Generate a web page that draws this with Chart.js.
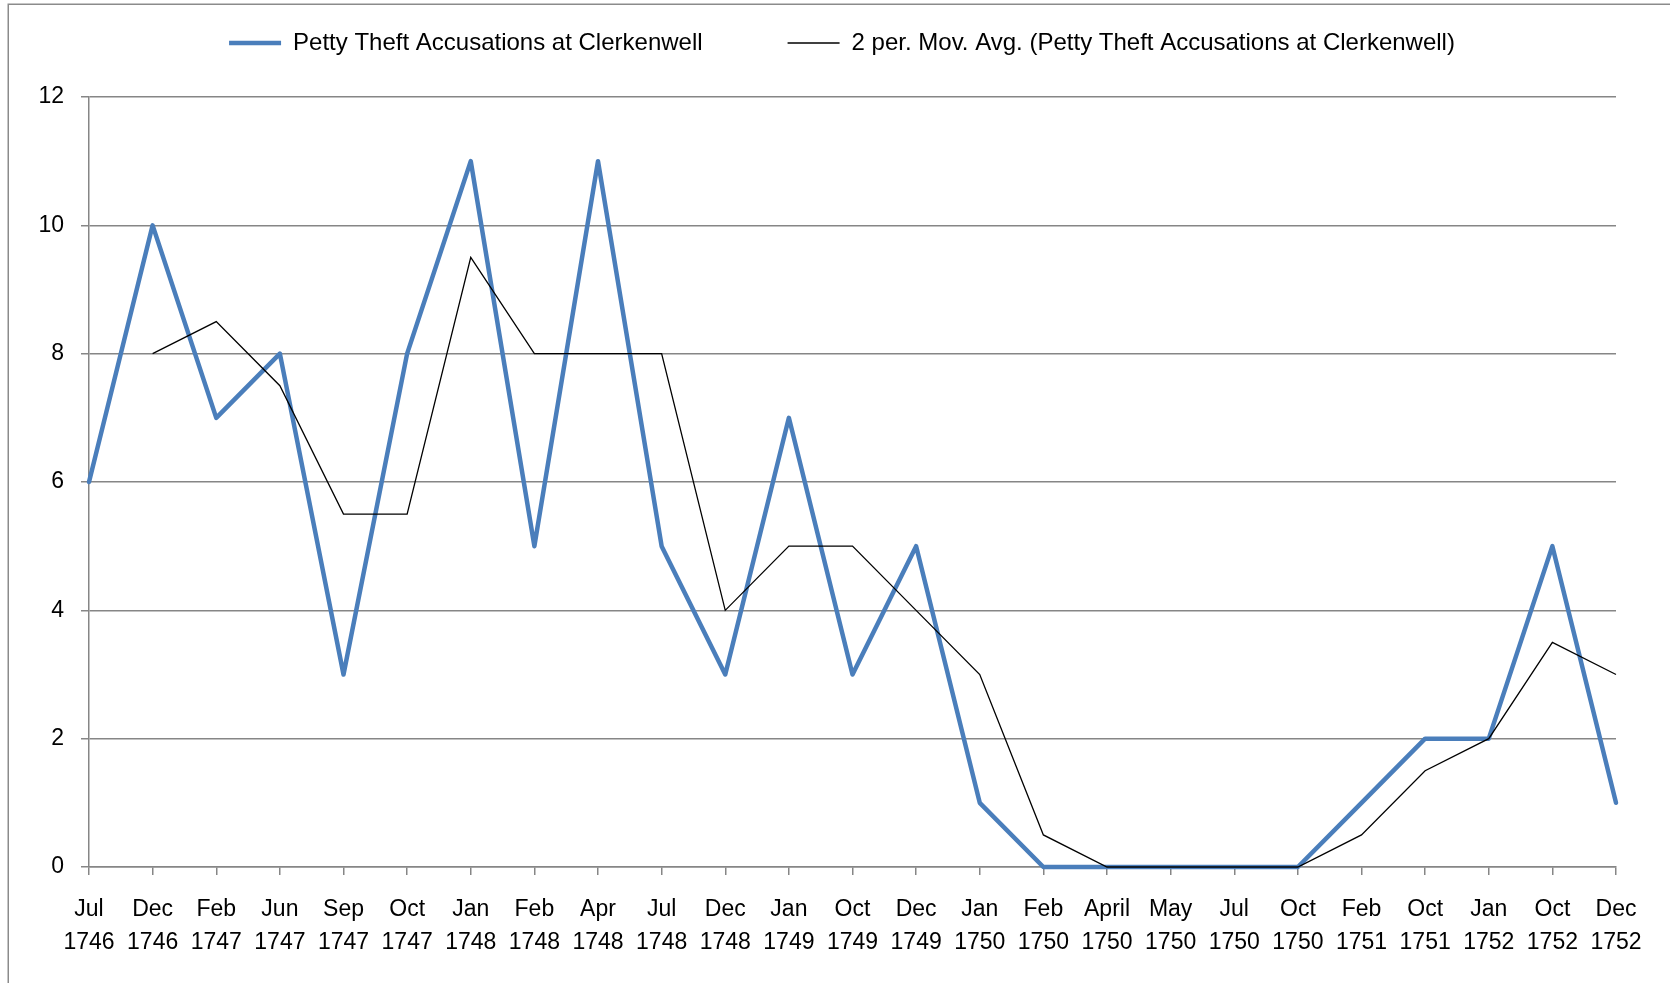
<!DOCTYPE html>
<html>
<head>
<meta charset="utf-8">
<title>Petty Theft Accusations at Clerkenwell</title>
<script src="https://cdn.jsdelivr.net/npm/chart.js@4.4.1/dist/chart.umd.min.js"></script>
<style>
  html, body { margin: 0; padding: 0; background: #ffffff; }
  canvas { display: block; }
</style>
</head>
<body>
<canvas id="chart" width="1670" height="983"></canvas>
<script>
// Sessions (month + year) on the category axis
const months = ['Jul', 'Dec', 'Feb', 'Jun', 'Sep', 'Oct', 'Jan', 'Feb', 'Apr', 'Jul', 'Dec', 'Jan', 'Oct',
                'Dec', 'Jan', 'Feb', 'April', 'May', 'Jul', 'Oct', 'Feb', 'Oct', 'Jan', 'Oct', 'Dec'];
const years = ['1746', '1746', '1747', '1747', '1747', '1747', '1748', '1748', '1748', '1748', '1748', '1749', '1749',
               '1749', '1750', '1750', '1750', '1750', '1750', '1750', '1751', '1751', '1752', '1752', '1752'];

// Accusations per session
const accusations = [6, 10, 7, 8, 3, 8, 11, 5, 11, 5, 3, 7, 3, 5, 1, 0, 0, 0, 0, 0, 1, 2, 2, 5, 1];

// Two-period moving average (no value for the first session)
const movingAvg = [null, 8, 8.5, 7.5, 5.5, 5.5, 9.5, 8, 8, 8, 4, 5, 5, 4, 3, 0.5, 0, 0, 0, 0, 0.5, 1.5, 2, 3.5, 3];

// Value axis tick labels
const yTickValues = [0, 2, 4, 6, 8, 10, 12];

const seriesNames = [
  'Petty Theft Accusations at Clerkenwell',
  '2 per. Mov. Avg. (Petty Theft Accusations at Clerkenwell)'
];

const labels = months.map((m, i) => [m, years[i]]);

const GRID = '#868686';
const FONT = '"Liberation Sans", Arial, sans-serif';

Chart.defaults.color = '#000000';
Chart.defaults.font.family = FONT;

// Frame around the whole chart area and legend placement
const framePlugin = {
  id: 'frame',
  beforeLayout(chart) {
    const lg = chart.legend;
    if (lg && !lg._fixedFit) {
      const fit = lg.fit;
      lg.fit = function () {
        fit.call(this);
        this.height = 97;
      };
      lg._fixedFit = true;
    }
  },
  afterLayout(chart) {
    const lg = chart.legend;
    if (lg) {
      lg.top = -54;
      lg.left = 14;
      lg.right = 1670;
    }
  },
  beforeDraw(chart) {
    const ctx = chart.ctx;
    ctx.save();
    ctx.fillStyle = '#ffffff';
    ctx.fillRect(0, 0, chart.width, chart.height);
    ctx.strokeStyle = '#8b8b8b';
    ctx.lineWidth = 1.5;
    ctx.strokeRect(8.25, 4.25, 1700, 1100);
    ctx.restore();
  }
};

new Chart(document.getElementById('chart'), {
  type: 'line',
  data: {
    labels: labels,
    datasets: [
      {
        label: seriesNames[0],
        data: accusations,
        borderColor: '#4a7ebb',
        backgroundColor: '#4a7ebb',
        borderWidth: 4.5,
        borderJoinStyle: 'round',
        borderCapStyle: 'round',
        pointRadius: 0,
        pointHoverRadius: 0,
        tension: 0,
        clip: false,
        order: 1
      },
      {
        label: seriesNames[1],
        data: movingAvg,
        borderColor: '#000000',
        backgroundColor: '#000000',
        borderWidth: 1.3,
        pointRadius: 0,
        pointHoverRadius: 0,
        tension: 0,
        spanGaps: false,
        clip: false,
        order: 0
      }
    ]
  },
  options: {
    responsive: false,
    animation: false,
    devicePixelRatio: 1,
    layout: { padding: { top: 0, left: 0, right: 54, bottom: 0 } },
    plugins: {
      tooltip: { enabled: false },
      legend: {
        position: 'top',
        align: 'center',
        labels: {
          usePointStyle: true,
          pointStyle: 'line',
          pointStyleWidth: 52,
          padding: 85,
          color: '#000000',
          font: { family: FONT, size: 24 },
          sort: (a, b) => a.datasetIndex - b.datasetIndex
        }
      }
    },
    scales: {
      x: {
        type: 'category',
        offset: false,
        afterFit(scale) { scale.height = 116; },
        grid: {
          display: true,
          drawOnChartArea: false,
          drawTicks: true,
          tickLength: 8,
          color: GRID,
          lineWidth: 1.5
        },
        border: { display: true, color: GRID, width: 1.5 },
        ticks: {
          autoSkip: false,
          maxRotation: 0,
          minRotation: 0,
          padding: 18,
          color: '#000000',
          font: { family: FONT, size: 23, lineHeight: '33px' }
        }
      },
      y: {
        min: yTickValues[0],
        max: yTickValues[yTickValues.length - 1],
        afterFit(scale) { scale.width = 89; },
        afterBuildTicks(scale) {
          scale.ticks = yTickValues.map(v => ({ value: v }));
        },
        grid: {
          display: true,
          drawOnChartArea: true,
          drawTicks: true,
          tickLength: 8,
          color: GRID,
          lineWidth: 1.5
        },
        border: { display: true, color: GRID, width: 1.5 },
        ticks: {
          padding: 17,
          color: '#000000',
          font: { family: FONT, size: 23 }
        }
      }
    }
  },
  plugins: [framePlugin]
});
</script>
</body>
</html>
